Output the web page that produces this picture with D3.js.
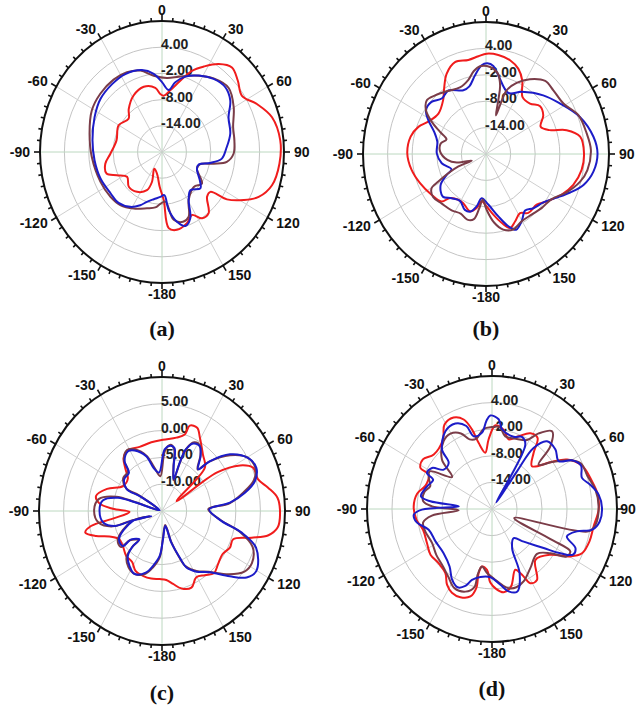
<!DOCTYPE html>
<html>
<head>
<meta charset="utf-8">
<style>
  body { margin: 0; background: #fff; }
  svg { display: block; }
  .ang { font: bold 14px "Liberation Sans", Arial, sans-serif; fill: #111; }
  .ring-label { font: bold 14px "Liberation Sans", Arial, sans-serif; fill: #222; }
  .cap { font: bold 22px "Liberation Serif", "Times New Roman", serif; fill: #111; }
</style>
</head>
<body>
<svg width="637" height="706"></svg>
<script src="https://d3js.org/d3.v7.min.js"></script>
<script>
// ---- data: [angle in degrees, gain in dB] ----
const ringsAB = [-14, -8, -2, 4];
const ringsC = [-10, -5, 0, 5];
const domainAB = [-20, 10];
const domainC = [-15, 10];

const redA = [[1.9,-7.1],[8.2,-5.7],[15.4,-3.1],[21.6,0.0],[27.7,2.1],[34.7,4.5],[41.6,5.9],[48.7,4.8],[56.8,3.5],[64.8,5.8],[73.6,8.2],[84.8,9.2],[95.3,9.0],[105.7,8.1],[113.4,5.9],[118.7,2.9],[124.2,-0.7],[127.5,-5.0],[132.8,-4.9],[140.7,-1.9],[147,-1.9],[152.9,-3.8],[159.4,-2.6],[168.3,-1.8],[174.6,-2.5],[177.8,-9.0],[-175.9,-12.0],[-166,-14.9],[-153.6,-15.7],[-160.2,-12.7],[-157,-10.5],[-146,-9.0],[-134.3,-8.6],[-123.5,-9.7],[-115.6,-7.7],[-109.9,-5.5],[-100.9,-5.8],[-91.8,-7.3],[-76.6,-8.5],[-60.2,-7.7],[-47.2,-8.8],[-39.7,-7.2],[-28.4,-5.3],[-16.7,-4.4],[-6.4,-5.2],[-1.8,-6.7]];
const blueA = [[6.6,-5.7],[11.6,-3.7],[18.4,-1.8],[27.3,-0.3],[37.2,1.0],[46.4,1.5],[55,0.5],[64,-1.8],[76,-2.7],[87.3,-4.2],[95.9,-5.2],[102,-7.9],[107.3,-10.5],[113.9,-10.6],[126,-8.4],[131.5,-7.4],[141.4,-8.8],[149.2,-7.2],[155.4,-3.3],[161.3,-2.1],[167,-3.6],[172.9,-6.6],[176.7,-10.1],[-177.7,-9.7],[-169.4,-9.0],[-162,-8.0],[-156.3,-6.7],[-148.1,-5.2],[-137.5,-4.2],[-126.8,-4.2],[-111.9,-3.7],[-96.5,-3.3],[-81.1,-2.7],[-64.3,-1.6],[-51.3,-0.6],[-38.3,-0.2],[-26.8,0.0],[-14.7,-0.6],[-6.5,-2.0],[0,-4.0]];
const brownA = [[4.1,-3.0],[13.4,-2.3],[24,-0.8],[37,1.1],[48.2,2.0],[59.8,0.4],[71.9,-1.6],[81.5,-2.0],[91.3,-2.4],[98.1,-3.9],[101.9,-7.0],[106.9,-10.3],[113.9,-10.6],[126.3,-7.8],[135.7,-8.8],[149.2,-7.2],[156.1,-3.8],[162.1,-3.2],[169.5,-4.2],[175.9,-8.6],[-178,-8.1],[-172.6,-7.2],[-164,-6.6],[-151.8,-5.3],[-139.8,-4.1],[-129,-3.7],[-114.3,-3.4],[-93.8,-2.7],[-76.8,-1.7],[-61.2,-0.3],[-48.7,0.2],[-35.7,0.4],[-25.3,0.2],[-16,-0.6],[-6.7,-2.4]];

const redB = [[0.4,2.8],[7.6,2.7],[15.4,2.1],[22.2,0.9],[27.9,-1.1],[34.6,-4.3],[43.1,-4.3],[50.5,-2.9],[57.8,-3.5],[65.1,-5.3],[70.8,-3.5],[74.6,0.4],[80.3,3.3],[89.6,3.9],[98.8,3.6],[108.2,2.4],[116.7,0.6],[126.1,-1.7],[133,-3.1],[142.4,-3.1],[148.3,-4.2],[155.2,-3.1],[160.8,-2.2],[166.3,-3.9],[172.6,-6.1],[179.3,-8.1],[-174.4,-9.2],[-169.5,-7.5],[-163.4,-6.4],[-153.7,-7.5],[-147,-7.6],[-138.7,-6.7],[-134.9,-4.7],[-124.9,-3.8],[-112.4,-2.6],[-101.3,-1.5],[-89.6,-0.8],[-77.9,-1.2],[-69.5,-2.4],[-62.5,-4.1],[-51.6,-5.2],[-40.5,-3.9],[-34.6,-2.0],[-27.8,0.6],[-19.9,2.2],[-11.4,1.8],[-4.8,2.3]];
const blueB = [[0.9,0.6],[5.1,0.1],[9.6,-1.9],[21.5,-5.1],[31.7,-3.4],[46.3,-0.7],[57.6,1.4],[69.8,4.4],[81.5,6.5],[89.7,7.2],[98.7,6.5],[106.5,4.8],[113.1,2.3],[120.8,-0.4],[128.2,-2.2],[136.8,-3.1],[143.4,-4.0],[150.4,-2.4],[156.9,-1.3],[161.6,-2.7],[168,-5.5],[177.2,-8.5],[-174,-9.9],[-169.2,-7.9],[-164,-6.4],[-157.9,-6.3],[-149.2,-7.6],[-140.1,-6.9],[-132.4,-5.7],[-122.4,-6.9],[-116.3,-9.3],[-112.5,-10.9],[-101,-9.0],[-89.3,-8.0],[-76.8,-7.8],[-68.3,-6.4],[-61.4,-4.0],[-55.8,-2.3],[-48.3,-2.2],[-40.6,-3.4],[-32.4,-2.9],[-20.9,-4.5],[-14.8,-4.1],[-8.5,-1.9],[-3,0.2]];
const brownB = [[-4.2,0.0],[2.9,-0.2],[8.8,-1.4],[12.4,-4.0],[13.8,-7.4],[15.4,-10.9],[17.3,-8.0],[19.2,-4.7],[24.8,-2.2],[32.2,0.1],[41,2.0],[48.6,1.9],[58.7,2.1],[68.6,4.2],[79.2,5.0],[88,5.6],[98.4,5.0],[105.3,3.8],[113.9,1.5],[122.6,-1.0],[132.2,-1.7],[141.1,-2.3],[150.4,-2.4],[158.8,-1.6],[166.2,-2.3],[172.8,-4.3],[179.3,-7.3],[-175.6,-9.6],[-172.5,-7.6],[-168.7,-4.9],[-163,-4.4],[-155.5,-5.1],[-146.8,-4.7],[-136.3,-4.4],[-127.4,-3.8],[-120.4,-4.6],[-118.3,-6.8],[-115.5,-9.8],[-112.9,-12.7],[-113.1,-16.2],[-105.3,-12.6],[-98.2,-10.5],[-87.2,-8.8],[-77.8,-8.7],[-70.9,-9.8],[-65.8,-7.7],[-61.1,-4.9],[-55.8,-2.3],[-49.8,-1.1],[-43,-1.8],[-33.9,-2.8],[-22.8,-3.6],[-14.3,-2.6],[-8.9,-0.9]];

const redC = [[0.9,-1.7],[12.1,-1.0],[18,0.0],[19.5,1.9],[24.7,2.1],[29.4,0.7],[38.4,-1.6],[47.1,-3.1],[57.7,-11.5],[57.2,-1.8],[61.8,3.0],[66.5,5.2],[73.2,5.4],[78.6,7.0],[84,8.6],[91.5,9.0],[97.5,8.7],[101.8,7.1],[105.3,3.9],[110,0.4],[116.3,0.4],[123.3,-0.3],[131,0.1],[137.8,0.7],[144,-0.2],[150.6,-0.8],[157.3,0.5],[164.7,0.0],[170.6,-1.2],[176.1,-2.1],[-177.9,-2.3],[-170.2,-2.2],[-162.2,-2.3],[-154.3,-2.6],[-147.5,-3.7],[-139,-3.9],[-129.4,-4.7],[-121,-4.8],[-114.1,-3.3],[-109.2,-0.8],[-104.5,1.1],[-101,-0.3],[-98.1,-4.9],[-91.5,-8.4],[-87.6,-5.0],[-83.6,-2.2],[-78.2,-1.3],[-69.7,-3.1],[-59.7,-5.8],[-49,-5.8],[-43.7,-4.3],[-38.3,-2.4],[-31.4,-1.7],[-20.8,-2.2],[-9.6,-2.0]];
const blueC = [[-4.8,-7.8],[2.7,-3.5],[7.9,-2.7],[12.3,-3.0],[15.8,-6.3],[21.9,-8.6],[21.8,-5.3],[22.8,-2.6],[26.7,-0.9],[32.4,-0.7],[37.4,-2.1],[43.4,-4.3],[46.3,-1.6],[52.6,2.4],[60.5,5.1],[67.2,5.8],[73.5,4.7],[78.6,2.2],[83.6,-1.1],[88.2,-5.4],[98.7,-2.8],[104,1.7],[109.7,5.3],[120.2,7.2],[125.8,6.2],[131.5,3.4],[139.7,0.0],[148.3,-1.7],[154.9,-3.4],[157.5,-5.6],[162.2,-8.8],[166.4,-12.1],[177.8,-9.7],[-176.8,-6.6],[-169.9,-4.6],[-164.4,-3.1],[-154.7,-2.0],[-147.2,-2.8],[-140.4,-4.1],[-137.9,-6.2],[-139.2,-8.0],[-130.2,-6.8],[-129.4,-4.7],[-121,-4.8],[-107.4,-8.8],[-113,-12.6],[-106.5,-8.5],[-106.2,-5.0],[-100.4,-2.9],[-90,-2.3],[-80.7,-2.8],[-74.6,-5.7],[-73.5,-9.6],[-75,-14.5],[-58.4,-9.7],[-60.5,-6.8],[-52.4,-5.3],[-43.3,-5.2],[-39.3,-3.0],[-31.8,-1.9],[-26.2,-2.4],[-17.4,-4.3],[-11.9,-6.8]];
const brownC = [[-3,-8.5],[3,-3.8],[8,-2.5],[12,-3.2],[16,-6.6],[22,-8.8],[22,-5.6],[23,-2.4],[27,-0.6],[32,-0.5],[37,-2.0],[43,-4.4],[46,-1.8],[53,2.3],[60,5.0],[67,5.6],[73,4.5],[78,2.0],[84,-1.2],[88,-5.6],[98,-3.0],[104,1.4],[110,4.6],[118,5.7],[124,5.2],[131,3.0],[140,-0.2],[148,-1.8],[155,-3.6],[158,-5.8],[162,-9.0],[166,-12.3],[178,-9.9],[-177,-6.4],[-170,-4.3],[-164,-2.8],[-155,-2.0],[-147,-2.5],[-140,-3.8],[-138,-6.0],[-139,-7.8],[-130,-6.5],[-129,-4.3],[-121,-4.5],[-107,-8.6],[-113,-12.4],[-106,-8.3],[-106,-4.6],[-100,-2.0],[-90,-1.2],[-80,-2.0],[-74,-5.3],[-73,-9.4],[-75,-14.3],[-58,-9.5],[-60,-6.6],[-52,-5.0],[-43,-4.9],[-39,-2.7],[-32,-1.6],[-26,-2.2],[-17,-4.2],[-11,-6.7]];

const redD = [[-7.2,-7.2],[-3,-4.3],[2.5,-1.1],[8.8,-1.9],[14.3,-3.8],[21.2,-2.4],[28.4,-0.6],[34.3,-0.6],[38.3,-3.9],[44.8,-6.4],[53,-2.5],[58.2,1.2],[65.6,3.7],[75.4,4.8],[82.7,5.6],[90.3,5.6],[99.2,4.7],[107.3,4.5],[114.8,3.8],[119.7,1.6],[126.4,-2.6],[137.7,-4.5],[146,-0.7],[151.2,-0.9],[154.1,-3.5],[157.8,-5.2],[165.4,-1.9],[171.5,-1.0],[176.7,-1.9],[-178.6,-3.4],[-175,-6.2],[-169.5,-6.8],[-167.5,-5.2],[-168.1,-1.8],[-165.3,0.4],[-159.1,1.3],[-153,1.2],[-147.7,0.2],[-142.3,-1.7],[-133.6,-2.3],[-124.9,-2.0],[-116.2,-2.6],[-105.8,-2.8],[-97.5,-1.7],[-88.2,-1.2],[-79.1,-1.7],[-71.7,-3.2],[-62.9,-2.9],[-61.7,-0.5],[-56,0.0],[-48.7,-1.4],[-36.9,-0.4],[-30.9,2.2],[-24.1,2.6],[-18.6,1.3],[-15,-1.4],[-12.1,-4.8]];
const blueD = [[-1.1,1.1],[4.5,0.3],[7.6,-1.8],[17.7,-2.9],[23.8,-2.2],[28.8,-3.4],[35,-18.2],[35.2,-9.6],[35.9,-3.0],[40.8,0.2],[48.6,0.3],[56,-0.7],[60.2,2.1],[65.3,3.5],[72,2.7],[76.9,4.2],[82.8,5.8],[89.5,6.4],[96.2,6.0],[101,4.5],[103.9,1.0],[109,-1.0],[113.8,1.9],[117.9,2.0],[121.3,-0.8],[125.4,-4.8],[134,-9.4],[141.7,-11.6],[151.4,-9.9],[155.4,-4.1],[162.1,-0.4],[167.9,-1.0],[173.3,-2.8],[-178.5,-4.6],[-169.7,-4.4],[-163.3,-3.3],[-159.8,-1.5],[-154.9,-0.5],[-149,-1.4],[-141.9,-3.5],[-130.6,-4.7],[-118.3,-4.6],[-107.1,-4.1],[-99.5,-1.7],[-93.9,-1.2],[-90.5,-3.2],[-85.7,-12.0],[-83.3,-5.1],[-80.5,-2.7],[-71.8,-3.6],[-64.9,-4.4],[-62.5,-2.4],[-57.2,-2.9],[-52.6,-5.4],[-45,-5.3],[-41.8,-2.0],[-32.5,0.8],[-24.5,1.2],[-18.2,-0.3],[-15,-3.0],[-7.9,-2.6],[-3.9,-0.1]];
const brownD = [[-6.3,-1.8],[0,-1.5],[5.6,-1.4],[11,-3.3],[20.7,-3.1],[28.4,-2.3],[33.3,0.4],[39.4,2.7],[44.7,-0.1],[48.2,-5.0],[53.7,-2.1],[59.7,1.8],[64.3,3.7],[72.2,4.1],[80,5.2],[88.7,5.6],[98.1,5.1],[102.3,3.7],[110.8,-14.3],[115.8,-4.4],[117,1.1],[121,0.8],[125.4,-2.8],[133.1,-5.2],[145.4,-3.8],[155.1,-2.0],[161.7,-1.4],[167.4,-1.7],[172,-2.7],[178,-4.2],[-175.3,-5.5],[-169.5,-6.8],[-166.9,-4.8],[-166.5,-1.9],[-161.1,-0.3],[-153.2,0.0],[-145.9,-1.4],[-137.8,-2.5],[-127.7,-3.1],[-118,-3.7],[-107.5,-3.2],[-100.4,-3.2],[-95.9,-5.5],[-92.1,-12.0],[-87.6,-5.6],[-84,-3.4],[-76.9,-3.3],[-70.9,-4.3],[-65.2,-3.3],[-60.4,-2.8],[-53,-8.0],[-47.1,-3.6],[-37.2,-0.8],[-30.4,-0.3],[-23.6,-1.4],[-18.9,-3.4],[-13.3,-3.7]];

const angleTicks = d3.range(0, 360, 30);
const captions = ["(a)", "(b)", "(c)", "(d)"];

const colors = { red: "#f01c1c", blue: "#1c1cc8", brown: "#7a3c48" };

// panel layout (pixels)
const panels = [
  { cx: 162, cy: 152, rx: 122, ry: 131, domain: domainAB, rings: ringsAB, capY: 328,
    series: [[redA, "red"], [brownA, "brown"], [blueA, "blue"]] },
  { cx: 486, cy: 154, rx: 123, ry: 132, domain: domainAB, rings: ringsAB, capY: 328,
    series: [[redB, "red"], [blueB, "blue"], [brownB, "brown"]] },
  { cx: 162, cy: 511, rx: 123, ry: 134, domain: domainC, rings: ringsC, capY: 692,
    series: [[redC, "red"], [brownC, "brown"], [blueC, "blue"]] },
  { cx: 492, cy: 509, rx: 125, ry: 133, domain: domainAB, rings: ringsAB, capY: 688,
    series: [[redD, "red"], [brownD, "brown"], [blueD, "blue"]] }
];

const svg = d3.select("svg");
const W = +svg.attr("width");
const rad = d => d * Math.PI / 180;

panels.forEach((p, i) => {
  const g = svg.append("g");
  const r = d3.scaleLinear().domain(p.domain).range([0, 1]).clamp(true);
  const px = (a, f) => p.cx + p.rx * f * Math.sin(rad(a));
  const py = (a, f) => p.cy - p.ry * f * Math.cos(rad(a));

  // rings
  g.selectAll(".ring").data(p.rings).enter().append("ellipse")
    .attr("cx", p.cx).attr("cy", p.cy)
    .attr("rx", d => p.rx * r(d)).attr("ry", d => p.ry * r(d))
    .attr("fill", "none").attr("stroke", "#c4c4c4").attr("stroke-width", 1);

  // spokes
  g.selectAll(".spoke").data(angleTicks).enter().append("line")
    .attr("x1", p.cx).attr("y1", p.cy)
    .attr("x2", d => px(d, 1)).attr("y2", d => py(d, 1))
    .attr("stroke", d => d % 90 === 0 ? "#bcd8c0" : "#cfcfcf").attr("stroke-width", 1);

  // outer circle + ticks
  g.append("ellipse").attr("cx", p.cx).attr("cy", p.cy).attr("rx", p.rx).attr("ry", p.ry)
    .attr("fill", "none").attr("stroke", "#111").attr("stroke-width", 2);
  g.selectAll(".tick").data(d3.range(0, 360, 5)).enter().append("line")
    .attr("x1", d => px(d, 1)).attr("y1", d => py(d, 1))
    .attr("x2", d => px(d, 1 + (d % 30 === 0 ? 6 : 3.5) / p.rx))
    .attr("y2", d => py(d, 1 + (d % 30 === 0 ? 6 : 3.5) / p.ry))
    .attr("stroke", "#111").attr("stroke-width", 1.6);

  // ring labels
  g.selectAll(".ring-label").data(p.rings).enter().append("text")
    .attr("class", "ring-label")
    .attr("x", p.cx - 1).attr("y", d => p.cy - p.ry * r(d) - 3)
    .attr("dominant-baseline", "central")
    .text(d => d.toFixed(2));

  // angle labels
  g.selectAll(".ang").data(angleTicks).enter().append("text")
    .attr("class", "ang")
    .attr("x", d => p.cx + (p.rx + 10) * Math.sin(rad(d)))
    .attr("y", d => p.cy - (p.ry + 11) * Math.cos(rad(d)))
    .attr("dominant-baseline", "central")
    .attr("text-anchor", d => d % 180 === 0 ? "middle" : (d < 180 ? "start" : "end"))
    .text(d => d <= 150 ? d : d - 360)
    .each(function () {
      // keep labels inside the page
      const b = this.getBBox();
      if (b.x + b.width > W - 1) d3.select(this).attr("x", +d3.select(this).attr("x") - (b.x + b.width - W + 1));
    });

  // curves
  const line = d3.line()
    .x(d => px(d[0], r(d[1])))
    .y(d => py(d[0], r(d[1])))
    .curve(d3.curveCatmullRomClosed.alpha(0.5));
  p.series.forEach(([data, c]) => {
    g.append("path").datum(data).attr("d", line)
      .attr("fill", "none").attr("stroke", colors[c]).attr("stroke-width", 2)
      .attr("stroke-linejoin", "round");
  });

  g.append("text").attr("class", "cap")
    .attr("x", p.cx).attr("y", p.capY)
    .attr("text-anchor", "middle").attr("dominant-baseline", "central")
    .text(captions[i]);
});
</script>
</body>
</html>
